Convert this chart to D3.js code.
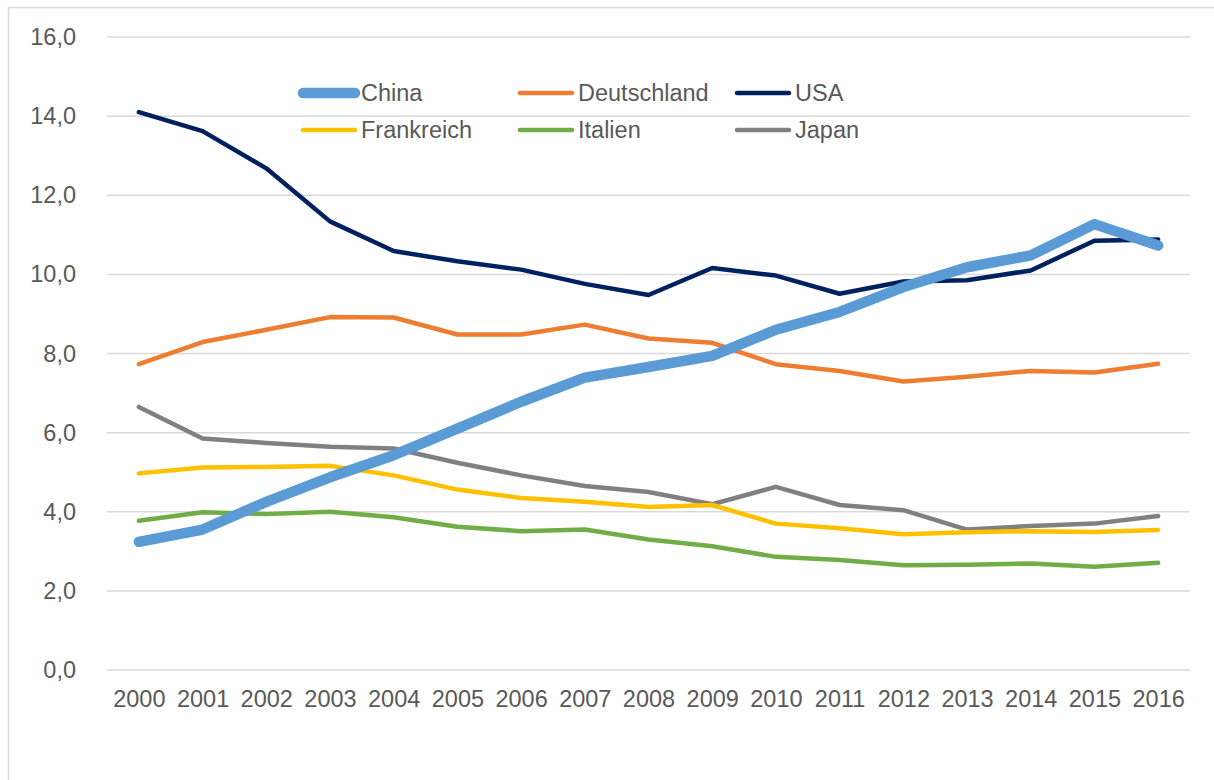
<!DOCTYPE html>
<html><head><meta charset="utf-8">
<script src="https://cdn.jsdelivr.net/npm/d3@7"></script>
<style>html,body{margin:0;padding:0;background:#fff;}svg{display:block;}</style>
</head><body>
<svg id="chart" width="1214" height="780"></svg>
<script>
const years = ["2000","2001","2002","2003","2004","2005","2006","2007","2008","2009","2010","2011","2012","2013","2014","2015","2016"];
const yTicks = [0,2,4,6,8,10,12,14,16];
const china       = [3.24,3.55,4.25,4.87,5.43,6.10,6.78,7.39,7.66,7.94,8.60,9.05,9.68,10.18,10.48,11.27,10.73];
const deutschland = [7.73,8.29,8.60,8.92,8.91,8.48,8.48,8.73,8.38,8.27,7.73,7.56,7.29,7.41,7.56,7.52,7.74];
const usa         = [14.10,13.62,12.68,11.34,10.59,10.33,10.12,9.76,9.48,10.16,9.97,9.51,9.82,9.85,10.10,10.85,10.88];
const frankreich  = [4.97,5.12,5.13,5.16,4.92,4.56,4.35,4.25,4.12,4.17,3.70,3.58,3.43,3.48,3.51,3.49,3.54];
const italien     = [3.77,3.99,3.94,4.00,3.86,3.62,3.51,3.55,3.30,3.13,2.86,2.78,2.65,2.66,2.69,2.61,2.71];
const japan       = [6.65,5.85,5.74,5.64,5.60,5.24,4.92,4.65,4.50,4.19,4.63,4.17,4.04,3.55,3.64,3.70,3.89];

const series = [
  {name:"Japan", values:japan, color:"#808080", width:4.5},
  {name:"Italien", values:italien, color:"#70AD47", width:4.5},
  {name:"Frankreich", values:frankreich, color:"#FFC000", width:4.5},
  {name:"USA", values:usa, color:"#002060", width:4.5},
  {name:"Deutschland", values:deutschland, color:"#ED7D31", width:4.5},
  {name:"China", values:china, color:"#5B9BD5", width:10.5}
];
const legendOrder = ["China","Deutschland","USA","Frankreich","Italien","Japan"];

const svg = d3.select("#chart");
const font = "'Liberation Sans', Arial, sans-serif";
const fs = 23.5;

// frame
svg.append("rect").attr("x",8.5).attr("y",7.5).attr("width",1300).attr("height",900)
  .attr("fill","none").attr("stroke","#d9d9d9").attr("stroke-width",1.5);

const pLeft = 107, pRight = 1190, pTop = 37, pBottom = 670;
const x = d3.scalePoint().domain(years).range([pLeft, pRight]).padding(0.5);
const y = d3.scaleLinear().domain([0,16]).range([pBottom, pTop]);

// gridlines
svg.append("g").selectAll("line").data(yTicks).join("line")
  .attr("x1",pLeft).attr("x2",pRight)
  .attr("y1",d=>y(d)).attr("y2",d=>y(d))
  .attr("stroke","#d9d9d9").attr("stroke-width",1.5);

// y axis labels
const yAxis = d3.axisLeft(y).tickValues(yTicks).tickSize(0).tickPadding(0)
  .tickFormat(d=>d3.format(".1f")(d).replace(".",","));
const ga = svg.append("g").attr("transform",`translate(76,0)`).call(yAxis);
ga.select(".domain").remove();
ga.selectAll("text").attr("font-family",font).attr("font-size",fs).attr("fill","#595959");

// x axis labels
const xAxis = d3.axisBottom(x).tickSize(0).tickPadding(0);
const gx = svg.append("g").attr("transform",`translate(0,${pBottom+20})`).call(xAxis);
gx.select(".domain").remove();
gx.selectAll("text").attr("font-family",font).attr("font-size",fs).attr("fill","#595959");

// lines
const line = d3.line().x((d,i)=>x(years[i])).y(d=>y(d));
svg.append("g").selectAll("path").data(series).join("path")
  .attr("d",d=>line(d.values))
  .attr("fill","none").attr("stroke",d=>d.color).attr("stroke-width",d=>d.width)
  .attr("stroke-linejoin","round").attr("stroke-linecap","round");

// legend
const legPos = [[301,93],[518,93],[735,93],[301,130],[518,130],[735,130]];
const lg = svg.append("g");
legendOrder.forEach((n,i)=>{
  const s = series.find(d=>d.name===n);
  const [lx,ly] = legPos[i];
  lg.append("line").attr("x1",lx+2).attr("x2",lx+54).attr("y1",ly).attr("y2",ly)
    .attr("stroke",s.color).attr("stroke-width",s.width).attr("stroke-linecap","round");
  lg.append("text").attr("x",lx+60).attr("y",ly+8).text(n)
    .attr("font-family",font).attr("font-size",fs).attr("fill","#595959");
});
</script>
</body></html>
